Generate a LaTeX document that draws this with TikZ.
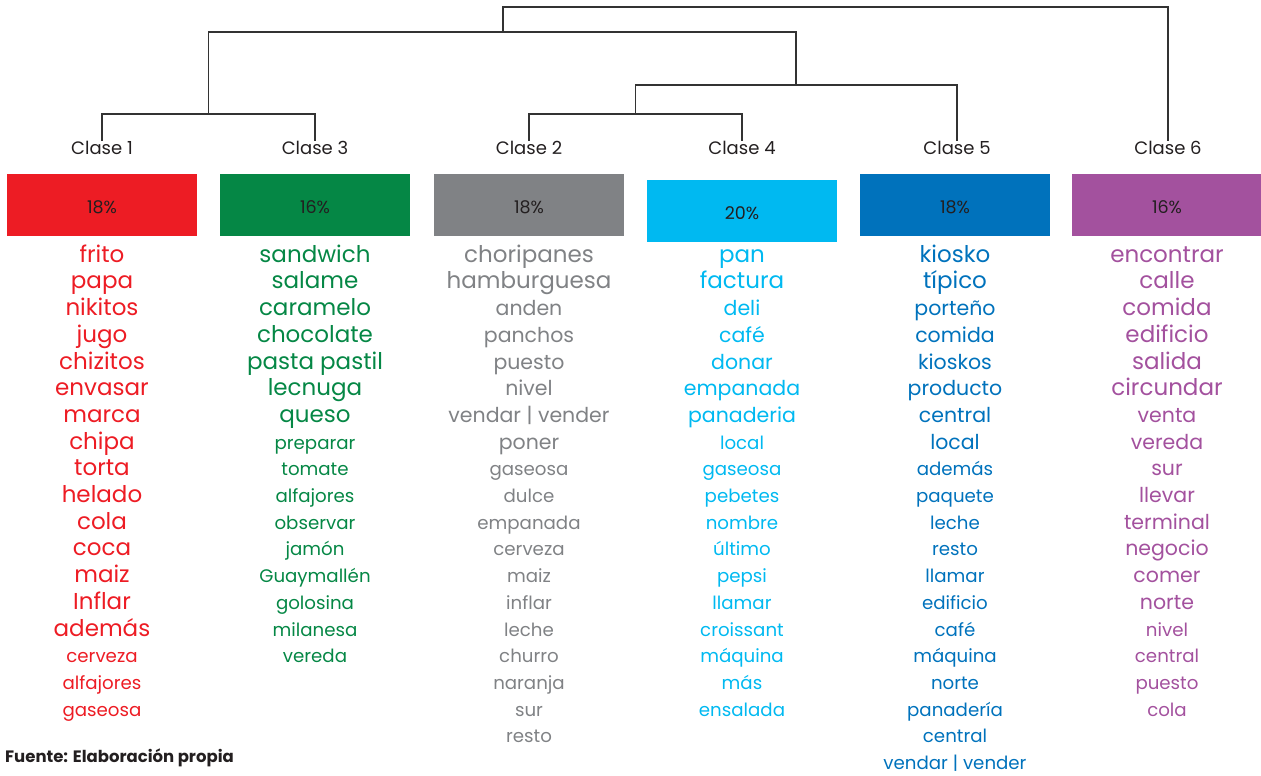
\documentclass[tikz,border=0pt]{standalone}
\usepackage{fontspec}
\setmainfont{Poppins}
\usetikzlibrary{positioning,matrix}
\definecolor{clsred}{RGB}{237,28,36}
\definecolor{clsgreen}{RGB}{5,135,69}
\definecolor{clsgray}{RGB}{128,130,133}
\definecolor{clscyan}{RGB}{0,185,241}
\definecolor{clsblue}{RGB}{0,114,188}
\definecolor{clspurple}{RGB}{163,81,158}
\definecolor{inkdark}{RGB}{35,31,32}
\definecolor{treeline}{RGB}{51,51,51}

\begin{document}
\begin{tikzpicture}[
      x=1pt, y=-1pt,
      classlabel/.style={
         inner sep=0pt,
         font=\fontsize{18}{18}\selectfont,
         text=inkdark
      },
      share/.style={
         rectangle,
         minimum width=190pt,
         minimum height=62pt,
         inner sep=0pt,
         fill=#1,
         font=\fontsize{17.5}{17.5}\selectfont,
         text height=16.5pt,
         text=inkdark
      },
      words/.style={
         matrix of nodes,
         anchor=north,
         inner sep=0pt,
         row sep=0pt,
         nodes={
            text=#1,
            inner sep=0pt,
            minimum height=26.7pt,
            text height=15pt,
            text depth=5pt,
            font=\fontsize{18.2}{18.2}\selectfont
         }
      },
      wbig/.style={font=\fontsize{23}{23}\selectfont},
      wmid/.style={font=\fontsize{20.5}{20.5}\selectfont},
      link/.style={draw=treeline, line width=1.2pt},
    ]
    \useasboundingbox (0,0) rectangle (1261,776);

    % class labels
    \node (c1) [classlabel] at (102,148) {Clase 1};
    \node (c3) [classlabel] at (315,148) {Clase 3};
    \node (c2) [classlabel] at (529,148) {Clase 2};
    \node (c4) [classlabel] at (742,148) {Clase 4};
    \node (c5) [classlabel] at (957,148) {Clase 5};
    \node (c6) [classlabel] at (1168,148) {Clase 6};

    % share boxes
    \node (b1) [share=clsred]    at (102,205) {18\%};
    \node (b3) [share=clsgreen]  at (315,205) {16\%};
    \node (b2) [share=clsgray]   at (529,205) {18\%};
    \node (b4) [share=clscyan]   at (742,211) {20\%};
    \node (b5) [share=clsblue]   at (955,205) {18\%};
    \node (b6) [share=clspurple] at (1167,205) {16\%};

    % dendrogram
    \coordinate (j13)   at (208.5,114);
    \coordinate (j24)   at (635.5,114);
    \coordinate (j245)  at (796,85);
    \coordinate (j1245) at (503,32);
    \coordinate (jall)  at (836,7);
    \draw[link] (c1.north) |- (j13) -| (c3.north);
    \draw[link] (c2.north) |- (j24) -| (c4.north);
    \draw[link] (j24) |- (j245) -| (c5.north);
    \draw[link] (j13) |- (j1245) -| (j245);
    \draw[link] (j1245) |- (jall) -| (c6.north);

    % word lists
    \matrix (w1) [words=clsred] at (102,243.7) {
      |[wbig]| frito \\ |[wbig]| papa \\ |[wbig]| nikitos \\ |[wbig]| jugo \\
      |[wbig]| chizitos \\ |[wbig]| envasar \\ |[wbig]| marca \\ |[wbig]| chipa \\
      |[wbig]| torta \\ |[wbig]| helado \\ |[wbig]| cola \\ |[wbig]| coca \\
      |[wbig]| maiz \\ |[wbig]| Inflar \\ |[wbig]| además \\
      cerveza \\ alfajores \\ gaseosa \\
    };
    \matrix (w3) [words=clsgreen] at (315,243.7) {
      |[wbig]| sandwich \\ |[wbig]| salame \\ |[wbig]| caramelo \\ |[wbig]| chocolate \\
      |[wbig]| pasta pastil \\ |[wbig]| lecnuga \\ |[wbig]| queso \\
      preparar \\ tomate \\ alfajores \\ observar \\ jamón \\ Guaymallén \\
      golosina \\ milanesa \\ vereda \\
    };
    \matrix (w2) [words=clsgray] at (529,243.7) {
      |[wbig]| choripanes \\ |[wbig]| hamburguesa \\
      |[wmid]| anden \\ |[wmid]| panchos \\ |[wmid]| puesto \\ |[wmid]| nivel \\
      |[wmid]| vendar \textbar{} vender \\ |[wmid]| poner \\
      gaseosa \\ dulce \\ empanada \\ cerveza \\ maiz \\ inflar \\ leche \\
      churro \\ naranja \\ sur \\ resto \\
    };
    \matrix (w4) [words=clscyan] at (742,243.7) {
      |[wbig]| pan \\ |[wbig]| factura \\
      |[wmid]| deli \\ |[wmid]| café \\ |[wmid]| donar \\ |[wmid]| empanada \\
      |[wmid]| panaderia \\
      local \\ gaseosa \\ pebetes \\ nombre \\ último \\ pepsi \\ llamar \\
      croissant \\ máquina \\ más \\ ensalada \\
    };
    \matrix (w5) [words=clsblue] at (955,243.7) {
      |[wbig]| kiosko \\ |[wbig]| típico \\
      |[wmid]| porteño \\ |[wmid]| comida \\ |[wmid]| kioskos \\ |[wmid]| producto \\
      |[wmid]| central \\ |[wmid]| local \\
      además \\ paquete \\ leche \\ resto \\ llamar \\ edificio \\ café \\
      máquina \\ norte \\ panadería \\ central \\ vendar \textbar{} vender \\
    };
    \matrix (w6) [words=clspurple] at (1167,243.7) {
      |[wbig]| encontrar \\ |[wbig]| calle \\ |[wbig]| comida \\ |[wbig]| edificio \\
      |[wbig]| salida \\ |[wbig]| circundar \\
      |[wmid]| venta \\ |[wmid]| vereda \\ |[wmid]| sur \\ |[wmid]| llevar \\
      |[wmid]| terminal \\ |[wmid]| negocio \\ |[wmid]| comer \\ |[wmid]| norte \\
      nivel \\ central \\ puesto \\ cola \\
    };

    % source
    \node (src) [anchor=base west, inner sep=0pt, text=inkdark,
                 font=\bfseries\fontsize{16.5}{16.5}\selectfont] at (5,762)
                 {Fuente: Elaboración propia};
\end{tikzpicture}
\end{document}
